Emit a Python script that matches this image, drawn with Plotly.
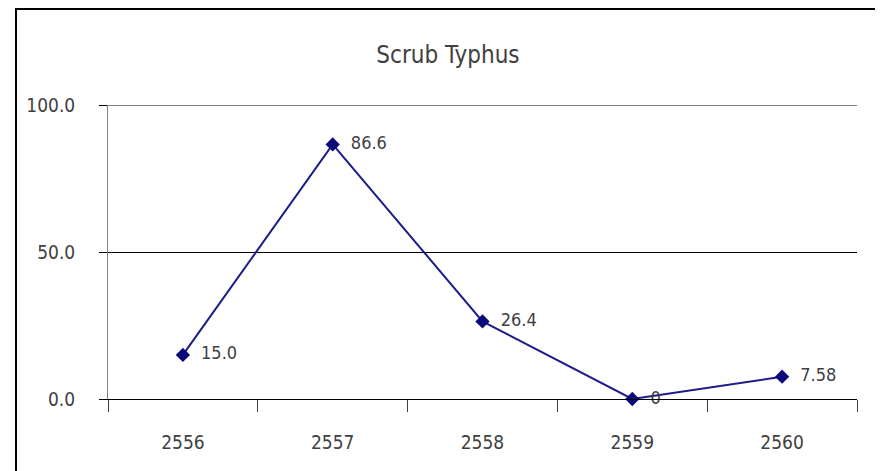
import plotly.graph_objects as go

years = ["2556", "2557", "2558", "2559", "2560"]
values = [15.0, 86.6, 26.4, 0, 7.58]
labels = ["15.0", "86.6", "26.4", "0", "7.58"]
y_ticks = [0, 50, 100]
y_tick_text = ["0.0", "50.0", "100.0"]

FONT = "DejaVu Sans Condensed, Liberation Sans Narrow, Arial Narrow, sans-serif"

# page has an 8px body margin; figure coords are page coords minus 8
FW, FH = 875, 463
L, T = 100, 97
W, H = 749, 294

fig = go.Figure()
fig.add_trace(go.Scatter(
    x=years, y=values,
    mode="lines+markers+text",
    text=["  " + t for t in labels],
    textposition="middle right",
    textfont=dict(family=FONT, size=18, color="#404040"),
    line=dict(color="#1c1c8a", width=2),
    marker=dict(symbol="diamond", size=11, color="#0a0a78"),
    cliponaxis=False,
    showlegend=False,
))

fig.update_layout(
    width=FW, height=FH,
    margin=dict(l=L, r=FW - L - W, t=T, b=FH - T - H),
    paper_bgcolor="white", plot_bgcolor="white",
    title=dict(text="Scrub Typhus", x=440 / FW, xref="container", y=1 - 47 / FH, yref="container",
               yanchor="middle", xanchor="center",
               font=dict(family=FONT, size=24, color="#404040")),
    xaxis=dict(
        type="category", range=[-0.5, 4.5],
        showgrid=False, showline=True, linecolor="black", linewidth=1,
        ticks="outside", tickson="boundaries", ticklen=12, tickcolor="#404040",
        tickfont=dict(family=FONT, size=19, color="#404040"),
        ticklabelstandoff=26,
    ),
    yaxis=dict(
        range=[0, 100], tickvals=y_ticks, ticktext=y_tick_text,
        showgrid=True, gridcolor="black", gridwidth=1,
        showline=True, linecolor="#808080", linewidth=1,
        ticks="outside", ticklen=8, tickcolor="black",
        zeroline=False,
        tickfont=dict(family=FONT, size=19, color="#404040"),
        ticklabelstandoff=20,
    ),
    shapes=[
        dict(
            type="rect", xref="paper", yref="paper",
            x0=(8 - L) / W, x1=(870 - L) / W,
            y0=(T + H - 500) / H, y1=(T + H - 1) / H,
            line=dict(color="black", width=2), fillcolor="rgba(0,0,0,0)", layer="below",
        ),
        # top gridline (Plotly drops gridlines on the plot edge)
        dict(
            type="line", xref="paper", yref="y",
            x0=0, x1=1, y0=max(y_ticks), y1=max(y_ticks),
            line=dict(color="black", width=1), layer="below",
        ),
    ],
)

fig.write_html("out.html")
